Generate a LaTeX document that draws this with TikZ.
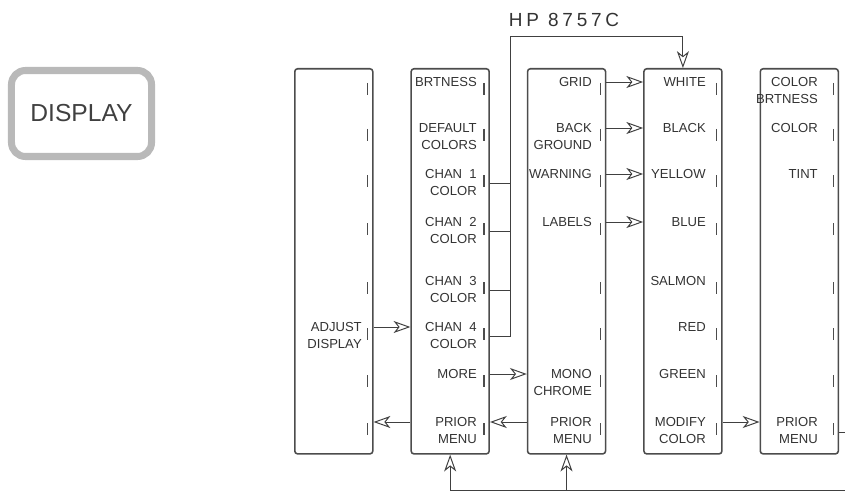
\documentclass[tikz,border=0pt]{standalone}
\usepackage{fontspec}
\setmainfont{Liberation Sans}
\newfontfamily\hpfont[LetterSpace=20]{Liberation Sans}
\usetikzlibrary{positioning, arrows.meta}

\begin{document}
\begin{tikzpicture}[
    x=0.025cm, y=-0.025cm,
    node distance = 0.92cm,
    menu/.style = {
        rectangle, rounded corners=2pt, draw=black!70, line width=1.1pt,
        minimum width=1.95cm, minimum height=9.625cm, inner sep=0pt
    },
    hardkey/.style = {
        rectangle, rounded corners=0.35cm, draw=gray!55, line width=5pt,
        minimum width=3.5cm, minimum height=2.15cm,
        font=\fontsize{17.5}{20}\selectfont, text=black!75
    },
    lbl/.style = {
        anchor=north east, inner sep=0pt, align=right,
        font=\fontsize{9.3}{12}\selectfont, text=black!80
    },
    softkey/.style = {line width=0.8pt, draw=black!70},
    line/.style = {line width=0.7pt, draw=black!75},
    arrow/.style = {
        line, -{Stealth[open, length=4.2mm, width=3mm, inset=1.2mm]}
    }
]
\useasboundingbox (0,0) rectangle (845,492);

% -- front panel key --
\node[hardkey] (dispkey) at (81.5,113.5) {DISPLAY};

% -- softkey menus --
\node[menu, anchor=north west] (adjmenu) at (294,68) {};
\node[menu, right=of adjmenu]   (dispmenu)  {};
\node[menu, right=of dispmenu]  (moremenu)  {};
\node[menu, right=of moremenu]  (colormenu) {};
\node[menu, right=of colormenu] (modmenu)   {};

% -- softkey marks --
\foreach \m in {adjmenu,dispmenu,moremenu,colormenu,modmenu} {
    \foreach \i/\ky in {1/82,2/128,3/174,4/222,5/281,6/327,7/374,8/422} {
        \path (\m.north east) ++(0,\ky-68) coordinate (\m-\i);
        \draw[softkey] (\m-\i) ++(-6,1) -- ++(0,12);
    }
}

% -- labels --
\node[lbl] (adjust) at (362,322) {ADJUST\\DISPLAY};

\node[lbl] (brt)    at (477,77)  {BRTNESS};
\node[lbl] (defcol) at (477,123) {DEFAULT\\COLORS};
\node[lbl] (chan1)  at (477,169) {CHAN~~1\\COLOR};
\node[lbl] (chan2)  at (477,217) {CHAN~~2\\COLOR};
\node[lbl] (chan3)  at (477,276) {CHAN~~3\\COLOR};
\node[lbl] (chan4)  at (477,322) {CHAN~~4\\COLOR};
\node[lbl] (more)   at (477,369) {MORE};
\node[lbl] (prior1) at (477,417) {PRIOR\\MENU};

\node[lbl] (grid)   at (592,77)  {GRID};
\node[lbl] (backgr) at (592,123) {BACK\\GROUND};
\node[lbl] (warn)   at (592,169) {WARNING};
\node[lbl] (labels) at (592,217) {LABELS};
\node[lbl] (mono)   at (592,369) {MONO\\CHROME};
\node[lbl] (prior2) at (592,417) {PRIOR\\MENU};

\node[lbl] (white)  at (706,77)  {WHITE};
\node[lbl] (black)  at (706,123) {BLACK};
\node[lbl] (yellow) at (706,169) {YELLOW};
\node[lbl] (blue)   at (706,217) {BLUE};
\node[lbl] (salmon) at (706,276) {SALMON};
\node[lbl] (red)    at (706,322) {RED};
\node[lbl] (green)  at (706,369) {GREEN};
\node[lbl] (modify) at (706,417) {MODIFY\\COLOR};

\node[lbl] (colbrt) at (818,77)  {COLOR\\BRTNESS};
\node[lbl] (color)  at (818,123) {COLOR};
\node[lbl] (tint)   at (818,169) {TINT};
\node[lbl] (prior3) at (818,417) {PRIOR\\MENU};

\node[font=\hpfont\fontsize{13.5}{16}\selectfont, text=black!80] (hp) at (564,20) {HP 8757C};

% -- menu links --
\draw[arrow] (adjmenu-6) -- (adjmenu-6 -| dispmenu.west);
\draw[arrow] (dispmenu-8 -| dispmenu.west) -- (adjmenu-8);
\draw[arrow] (dispmenu-7) -- (dispmenu-7 -| moremenu.west);
\draw[arrow] (moremenu-8 -| moremenu.west) -- (dispmenu-8);
\foreach \i in {1,...,4}
    \draw[arrow] (moremenu-\i) -- (moremenu-\i -| colormenu.west);
\draw[arrow] (colormenu-8) -- (colormenu-8 -| modmenu.west);

% -- channel colors to color menu --
\path (dispmenu.north east) ++(21,-32) coordinate (hpbus);
\foreach \i in {3,...,6}
    \draw[line] (dispmenu-\i) ++(0,9.5) -- ++(21,0);
\draw[arrow] (dispmenu-6) ++(21,9.5) -- (hpbus) -| (colormenu.north);

% -- return path --
\path (dispmenu.south) ++(0,36) coordinate (retl);
\draw[line] (modmenu-8) ++(0,10) -- ++(40,0) |- (retl);
\draw[arrow] (retl) -- (dispmenu.south);
\draw[arrow] (retl -| moremenu.south) -- (moremenu.south);

\end{tikzpicture}
\end{document}
